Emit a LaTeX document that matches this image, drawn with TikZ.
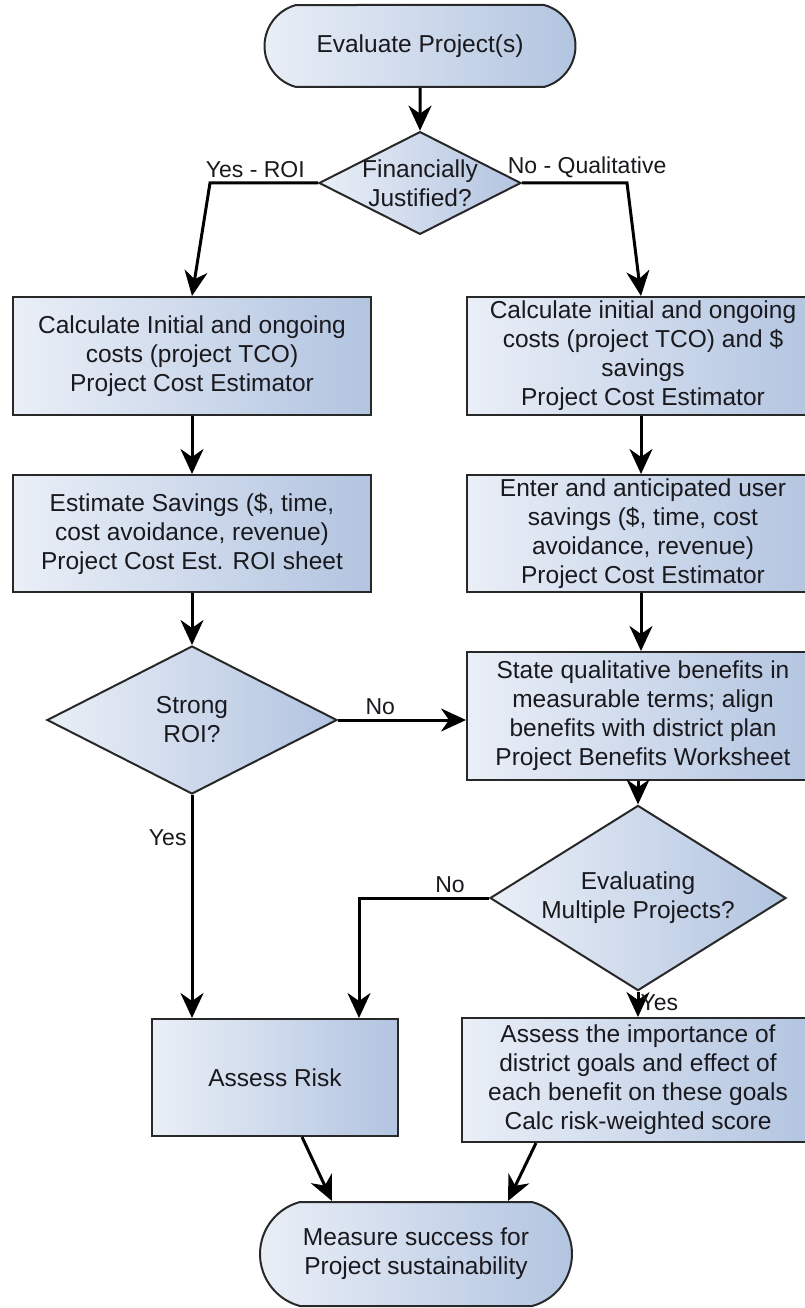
\documentclass[tikz,border=0pt]{standalone}
\usepackage{fontspec}
\setmainfont{Liberation Sans}
\usetikzlibrary{shapes.geometric, shapes.misc, arrows.meta, positioning}
\definecolor{ink}{RGB}{25,25,30}
\definecolor{edge}{RGB}{40,40,40}
\definecolor{lite}{RGB}{234,239,247}
\definecolor{deep}{RGB}{178,196,224}
\tikzset{->, >={Stealth[length=25pt, width=23pt, inset=8pt]}, node distance=180pt,
  every node/.style={font=\fontsize{24.5}{29}\selectfont, text=ink},
  box/.style={rectangle, draw=edge, line width=2pt, left color=lite, right color=deep, align=center, inner sep=0pt},
  decision/.style={diamond, draw=edge, line width=2pt, left color=lite, right color=deep, align=center, inner sep=-15pt},
  terminal/.style={rounded rectangle, rounded rectangle arc length=150, draw=edge, line width=2pt, left color=lite, right color=deep, align=center, inner xsep=-30pt},
  flow/.style={line width=3pt, black},
  lbl/.style={font=\fontsize{23}{28}\selectfont, inner sep=4pt}}

\begin{document}
\begin{tikzpicture}[x=1pt, y=-1pt]
    \useasboundingbox[fill=white] (0,0) rectangle (805,1308);
    \node[terminal, minimum width=251pt, minimum height=82pt] (start) at (420,46) {Evaluate Project(s)};
    \node[decision, below of=start, node distance=137pt, minimum width=202pt, minimum height=102pt] (fin) {Financially\\Justified?};
    \node[box, minimum width=358pt, minimum height=118pt] (calcL) at (192,356) {Calculate Initial and ongoing\\costs (project TCO)\\Project Cost Estimator};
    \node[box, right of=calcL, node distance=451pt, minimum width=352pt, minimum height=118pt] (calcR) {Calculate initial and ongoing\\costs (project TCO) and \$\\savings\\Project Cost Estimator};
    \node[box, below of=calcL, node distance=177.5pt, minimum width=358pt, minimum height=117pt] (estL) {Estimate Savings (\$, time,\\cost avoidance, revenue)\\Project Cost Est. ROI sheet};
    \node[box, below of=calcR, node distance=177.5pt, minimum width=352pt, minimum height=117pt] (estR) {Enter and anticipated user\\savings (\$, time, cost\\avoidance, revenue)\\Project Cost Estimator};
    \node[decision, below of=estL, node distance=186.5pt, minimum width=290pt, minimum height=148pt] (strong) {Strong\\ROI?};
    \node[box, below of=estR, node distance=182.5pt, minimum width=352pt, minimum height=128pt] (benefit) {State qualitative benefits in\\measurable terms; align\\benefits with district plan\\Project Benefits Worksheet};
    \node[decision, below of=benefit, node distance=182pt, xshift=-5pt, minimum width=296pt, minimum height=147pt] (multi) {Evaluating\\Multiple Projects?};
    \node[box, minimum width=246pt, minimum height=117pt] (risk) at (275,1077.5) {Assess Risk};
    \node[box, right of=risk, node distance=363pt, yshift=-2.5pt, minimum width=352pt, minimum height=124pt] (goals) {Assess the importance of\\district goals and effect of\\each benefit on these goals\\Calc risk-weighted score};
    \node[terminal, minimum width=252pt, minimum height=104pt] (finish) at (416,1254) {Measure success for\\Project sustainability};

    % bends of the branch lines
    \coordinate (yesbend) at (210,183);
    \coordinate (nobend) at (627,183);
    \coordinate (multibend) at (359,898);

    \draw[flow] (start) -- (fin);
    \draw[flow] (fin.west) -- node[lbl, above, pos=0.58] {Yes - ROI} (yesbend) -- (calcL.north);
    \draw[flow] (fin.east) -- node[lbl, above, pos=0.62] {No - Qualitative} (nobend) -- ([xshift=-2pt]calcR.north);
    \draw[flow] (calcL) -- (estL);
    \draw[flow] ([xshift=-2pt]calcR.south) -- ([xshift=-2pt]estR.north);
    \draw[flow] (estL) -- (strong);
    \draw[flow] ([xshift=-2pt]estR.south) -- ([xshift=-2pt]benefit.north);
    \draw[flow] (strong.east) -- node[lbl, above, pos=0.33] {No} (benefit.west |- strong.east);
    \draw[flow] (strong.south) -- node[lbl, left, pos=0.19] {Yes} (strong.south |- risk.north);
    \draw[flow] (multi.north |- benefit.south) -- (multi.north);
    \draw[flow] (multi.west) -- node[lbl, above, pos=0.3] {No} (multibend) -- (multibend |- risk.north);
    \draw[flow] (multi.south) -- node[lbl, right, pos=0.45, inner sep=1pt] {Yes} (multi.south |- goals.north);
    \draw[flow] ([xshift=27pt]risk.south) -- ([xshift=-84pt]finish.north);
    \draw[flow] ([xshift=75pt]goals.south west) -- ([xshift=92pt]finish.north);
\end{tikzpicture}
\end{document}
